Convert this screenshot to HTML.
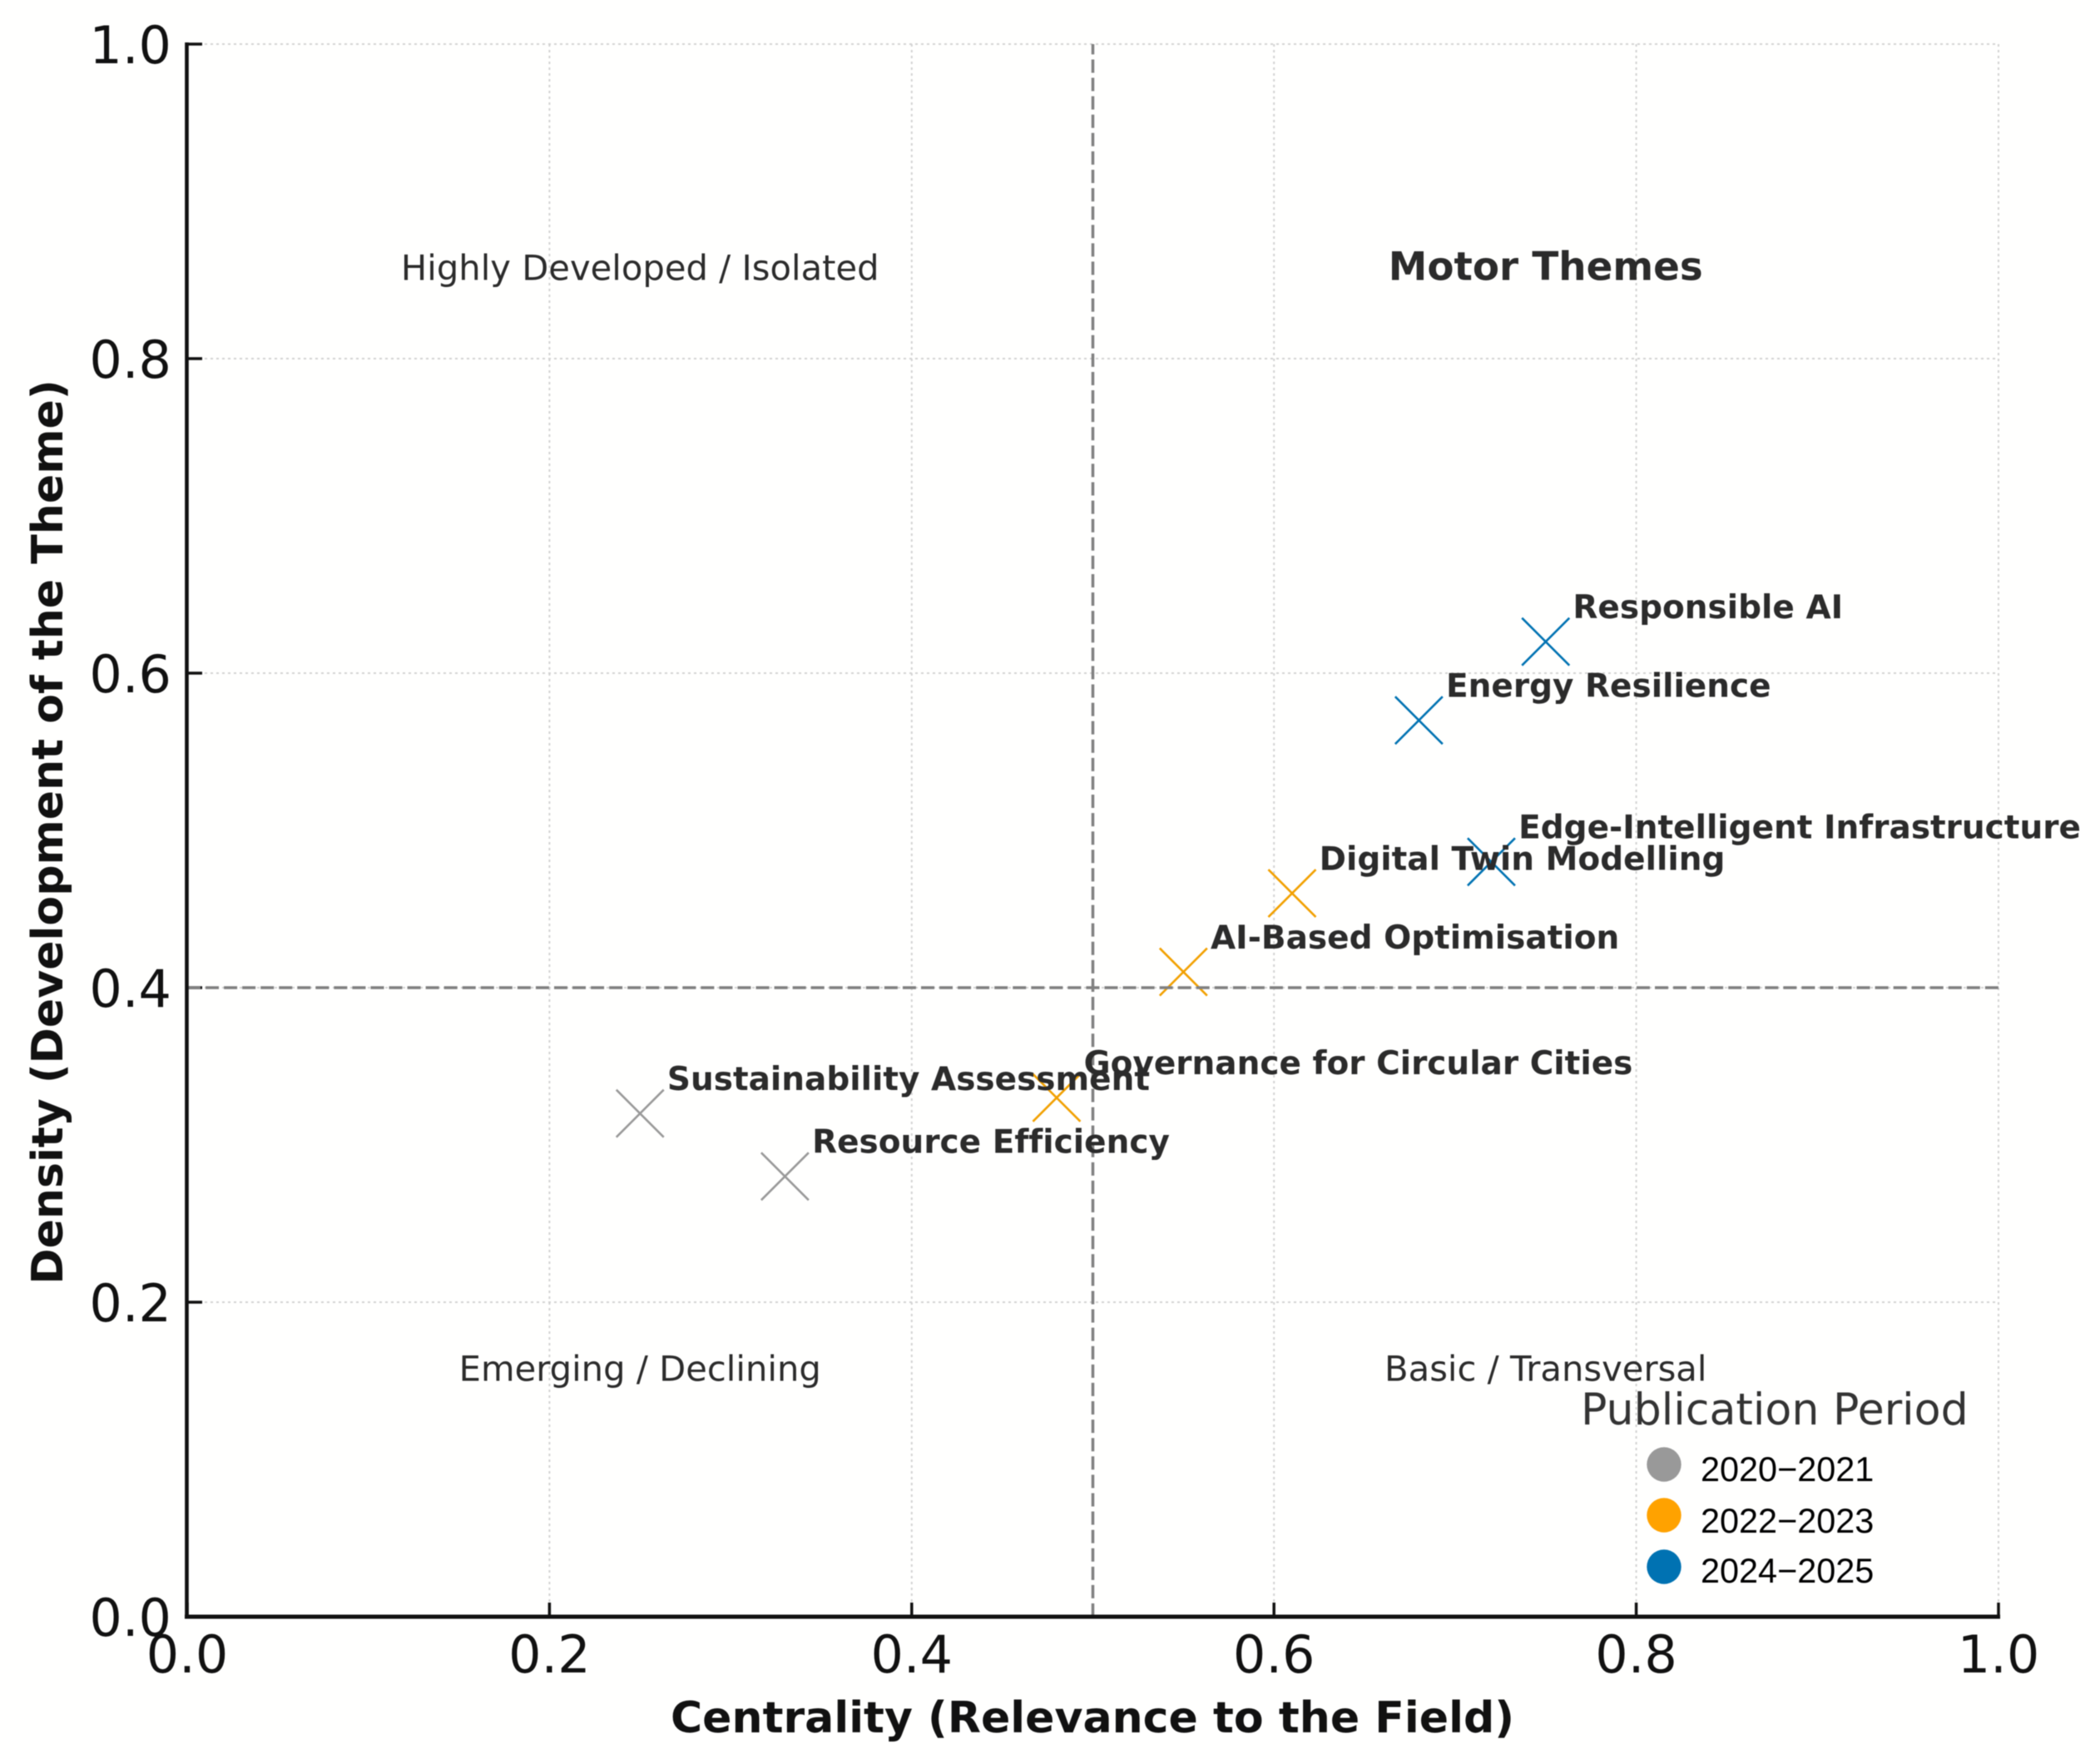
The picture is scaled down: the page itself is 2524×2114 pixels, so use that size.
<!DOCTYPE html>
<html lang="en">
<head>
<meta charset="utf-8">
<title>Thematic map</title>
<style>
html,body{margin:0;padding:0;background:#fff;width:2524px;height:2114px;overflow:hidden}
svg{display:block;filter:blur(0.5px)}
text{font-family:"DejaVu Sans","Liberation Sans",sans-serif;font-variant-ligatures:none}
</style>
</head>
<body>
<svg id="chart" xmlns="http://www.w3.org/2000/svg" width="2524" height="2114" viewBox="0 0 2524 2114">
<rect width="2524" height="2114" fill="#fffffe"/>
<g id="grid"></g>
<g id="marks"></g>
<g id="axes"></g>
<g id="refs"></g>
<g id="spines"></g>
<g id="labels"></g>
<g id="quadrants"></g>
<text x="1313" y="2082" text-anchor="middle" font-size="52.1" font-weight="700" fill="#111">Centrality (Relevance to the Field)</text>
<text transform="translate(75 1000) rotate(-90)" text-anchor="middle" font-size="52.1" font-weight="700" fill="#111">Density (Development of the Theme)</text>
<g id="legend">
<text x="1900" y="1712" font-size="52.2" fill="#333">Publication Period</text>
</g>
</svg>
<script>
const xTicks = [0, 0.2, 0.4, 0.6, 0.8, 1];
const yTicks = [0, 0.2, 0.4, 0.6, 0.8, 1];
const tickLabels = ['0.0', '0.2', '0.4', '0.6', '0.8', '1.0'];
const themes = ['Responsible AI', 'Energy Resilience', 'Edge-Intelligent Infrastructure', 'Digital Twin Modelling', 'AI-Based Optimisation', 'Governance for Circular Cities', 'Sustainability Assessment', 'Resource Efficiency'];
const centrality = [0.75, 0.68, 0.72, 0.61, 0.55, 0.48, 0.25, 0.33];
const density = [0.62, 0.57, 0.48, 0.46, 0.41, 0.33, 0.32, 0.28];
const periodIndex = [2, 2, 2, 1, 1, 1, 0, 0];
const periods = ['2020\u22122021', '2022\u22122023', '2024\u22122025'];
const periodColors = ['#999999', '#F2A000', '#0072B2'];
const legendColors = ['#999999', '#FFA200', '#0072B2'];
const quadrantNames = ['Highly Developed / Isolated', 'Motor Themes', 'Emerging / Declining', 'Basic / Transversal'];
const quadrantX = [0.25, 0.75, 0.25, 0.75];
const quadrantY = [0.85, 0.85, 0.15, 0.15];
const thresholdX = 0.5;
const thresholdY = 0.4;
const labelOffset = 0.015;

const NS = 'http://www.w3.org/2000/svg';
const PLOT = {left: 225, right: 2402, top: 53, bottom: 1943};
function sx(v) { return PLOT.left + v * (PLOT.right - PLOT.left); }
function sy(v) { return PLOT.bottom - v * (PLOT.bottom - PLOT.top); }
function make(tag, parent, props, text) {
  const el = document.createElementNS(NS, tag);
  for (const k in props) el.setAttribute(k, props[k]);
  if (text !== undefined) el.textContent = text;
  parent.appendChild(el);
  return el;
}
const gridG = document.getElementById('grid');
const marksG = document.getElementById('marks');
const refsG = document.getElementById('refs');
const axesG = document.getElementById('axes');
const spinesG = document.getElementById('spines');
const labelsG = document.getElementById('labels');
const quadG = document.getElementById('quadrants');
const legendG = document.getElementById('legend');

xTicks.forEach(function (t, i) {
  const x = sx(t);
  const g = make('line', gridG, {x1: x, x2: x, y1: PLOT.top, y2: PLOT.bottom, stroke: '#d2d2d2', 'stroke-width': 2, 'stroke-dasharray': '3 4'});
  
  
  const tick = make('line', axesG, {x1: x, x2: x, y1: PLOT.bottom, y2: PLOT.bottom - 17, stroke: '#111', 'stroke-width': 3.5});
  
  
  const lab = make('text', axesG, {x: x, y: 2010, 'text-anchor': 'middle', 'font-size': 62, fill: '#111'}, tickLabels[i]);
  
  
});
yTicks.forEach(function (t, i) {
  const y = sy(t);
  const g = make('line', gridG, {x1: PLOT.left, x2: PLOT.right, y1: y, y2: y, stroke: '#d2d2d2', 'stroke-width': 2, 'stroke-dasharray': '3 4'});
  
  
  const tick = make('line', axesG, {x1: PLOT.left, x2: PLOT.left + 18, y1: y, y2: y, stroke: '#111', 'stroke-width': 3.5});
  
  
  const lab = make('text', axesG, {x: 206, y: y + 23, 'text-anchor': 'end', 'font-size': 62, fill: '#111'}, tickLabels[i]);
  
  
});

const vRef = make('line', refsG, {x1: sx(thresholdX), x2: sx(thresholdX), y1: PLOT.bottom, y2: PLOT.top, stroke: '#808080', 'stroke-width': 3.5, 'stroke-dasharray': '16 6.09'});


const hRef = make('line', refsG, {x1: PLOT.left, x2: PLOT.right, y1: sy(thresholdY), y2: sy(thresholdY), stroke: '#808080', 'stroke-width': 3.5, 'stroke-dasharray': '16 6.05'});



const yAxis = make('line', spinesG, {x1: PLOT.left - 0.5, x2: PLOT.left - 0.5, y1: PLOT.top - 2, y2: PLOT.bottom + 2.5, stroke: '#111', 'stroke-width': 4.6});


const xAxis = make('line', spinesG, {x1: PLOT.left - 3, x2: PLOT.right + 2, y1: PLOT.bottom, y2: PLOT.bottom, stroke: '#111', 'stroke-width': 5});



themes.forEach(function (name, i) {
  const x = sx(centrality[i]);
  const y = sy(density[i]);
  const r = 28.5;
  const c = periodColors[periodIndex[i]];
  const m = make('path', marksG, {d: 'M' + (x - r) + ' ' + (y - r) + 'L' + (x + r) + ' ' + (y + r) + 'M' + (x - r) + ' ' + (y + r) + 'L' + (x + r) + ' ' + (y - r), stroke: c, 'stroke-width': 2.6, fill: 'none'});
  
  
  const t = make('text', labelsG, {x: sx(centrality[i] + labelOffset), y: sy(density[i] + labelOffset), 'font-size': 39, 'font-weight': 700, fill: '#2b2b2b'}, name);
  
  
});

quadrantNames.forEach(function (name, i) {
  const t = make('text', quadG, {x: sx(quadrantX[i]), y: sy(quadrantY[i]), 'text-anchor': 'middle', 'font-size': i === 1 ? 46.8 : 41.7, 'font-weight': i === 1 ? 700 : 400, fill: '#2b2b2b'}, name);
  
  
});

const legendCy = [1760, 1821, 1883];
const legendBase = [1780, 1842, 1902];
periods.forEach(function (name, i) {
  const c = make('circle', legendG, {cx: 2000, cy: legendCy[i], r: 20.7, fill: legendColors[i]});
  
  
  const t = make('text', legendG, {x: 2044, y: legendBase[i], 'font-size': 41.4, fill: '#000', style: 'font-family:"Liberation Sans",sans-serif'}, name);
  
  
});
</script>
</body>
</html>
